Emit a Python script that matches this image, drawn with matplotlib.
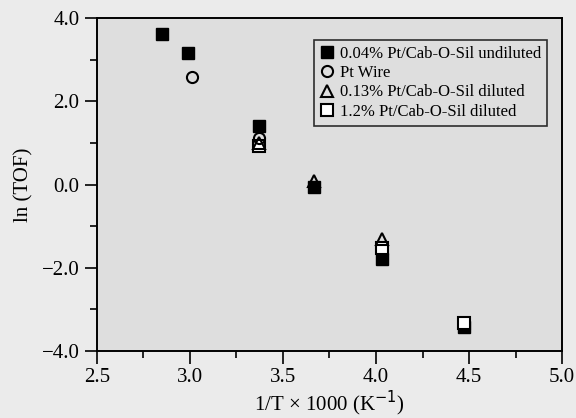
import numpy as np
import matplotlib
matplotlib.use("Agg")
import matplotlib.pyplot as plt
from matplotlib.ticker import MultipleLocator, FuncFormatter

plt.rcParams['font.family'] = ['Liberation Serif', 'DejaVu Serif']

# 1/T x 1000 (K^-1) and ln(TOF)
undiluted_x = [2.85, 2.99, 3.37, 3.665, 4.03, 4.475]
undiluted_y = [3.62, 3.16, 1.42, -0.06, -1.79, -3.42]

wire_x = [3.01, 3.37]
wire_y = [2.59, 1.12]

pt013_x = [3.37, 3.665, 4.03]
pt013_y = [1.00, 0.08, -1.32]

pt12_x = [3.37, 4.03, 4.475]
pt12_y = [0.93, -1.53, -3.33]

labels = ["0.04% Pt/Cab-O-Sil undiluted", "Pt Wire",
          "0.13% Pt/Cab-O-Sil diluted", "1.2% Pt/Cab-O-Sil diluted"]

fig = plt.figure(figsize=(5.76, 4.18), dpi=100, facecolor='#ebebeb')
ax = fig.add_axes([0.168, 0.161, 0.808, 0.795])
ax.set_facecolor('#dedede')

h1, = ax.plot(undiluted_x, undiluted_y, 's', ms=8, mfc='black', mec='black', zorder=3)
h2, = ax.plot(wire_x, wire_y, 'o', ms=8, mfc='none', mec='black', mew=1.5, zorder=6)
h3, = ax.plot(pt013_x, pt013_y, '^', ms=9, mfc='none', mec='black', mew=1.5, zorder=5)
h4, = ax.plot(pt12_x, pt12_y, 's', ms=8, mfc='white', mec='black', mew=1.5, zorder=4)

ax.set_xlim(2.5, 5.0)
ax.set_ylim(-4.0, 4.0)
ax.xaxis.set_major_locator(MultipleLocator(0.5))
ax.xaxis.set_minor_locator(MultipleLocator(0.25))
ax.yaxis.set_major_locator(MultipleLocator(2.0))
ax.yaxis.set_minor_locator(MultipleLocator(1.0))
fmt = FuncFormatter(lambda v, p: f"{v:.1f}".replace('-', '\u2212'))
ax.xaxis.set_major_formatter(fmt)
ax.yaxis.set_major_formatter(fmt)
ax.tick_params(which='both', direction='out', top=False, right=False,
               width=1.2, labelsize=15)
ax.tick_params(which='major', length=9)
ax.tick_params(which='minor', length=5)
for s in ax.spines.values():
    s.set_linewidth(1.4)

ax.set_xlabel("1/T \u00d7 1000 (K$^{-1}$)", fontsize=15, labelpad=1)
ax.set_ylabel("ln (TOF)", fontsize=15, labelpad=6)

leg = ax.legend([h1, h2, h3, h4], labels, loc='upper right',
                bbox_to_anchor=(0.968, 0.935), fontsize=12, frameon=True,
                fancybox=False, handlelength=0.8, handletextpad=0.4,
                borderpad=0.35, labelspacing=0.2, borderaxespad=0)
leg.get_frame().set_edgecolor('black')
leg.get_frame().set_facecolor('none')
leg.get_frame().set_linewidth(1.2)

fig.savefig("out.png", dpi=100, facecolor=fig.get_facecolor())
